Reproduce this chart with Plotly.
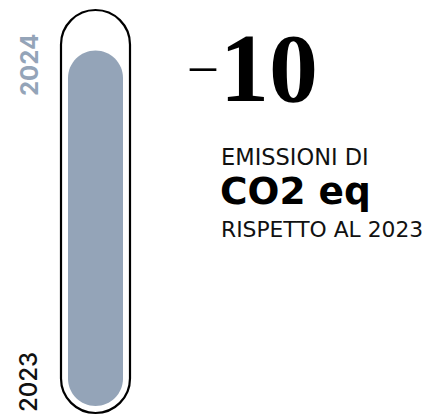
import plotly.graph_objects as go

# ---- data ----
years = ["2023", "2024"]
emissions_index = [100, 91.4]          # 2023 = 100 (outline), 2024 relative level (filled bar)
change_label = "10"                    # displayed change vs 2023 (minus sign drawn separately)
text_lines = ["EMISSIONI DI", "CO2 eq", "RISPETTO AL 2023"]

# ---- layout constants (screen pixels) ----
WIN_W, WIN_H = 435, 416
OFF = 8                  # page body margin offset
W, H = WIN_W - OFF, WIN_H - OFF
K = 3.89                 # pixels per index unit
BASE_PX = 406 - OFF      # pixel row of index 0 (figure coords)
CX_PX = 95.5 - OFF       # capsule centre column (figure coords)
HALF_W_PX = 27.5         # half width of filled bar
PAD_PX = 7               # gap between bar and outline
BAR_COLOR = "#94a4b8"

y_range = [-(H - BASE_PX) / K, BASE_PX / K]
x_range = [0, W / K]
cx = CX_PX / K
r_in = HALF_W_PX / K
pad = PAD_PX / K
r_out = r_in + pad


def capsule(xc, r, y0, y1):
    c = 0.5523 * r
    return (
        f"M {xc - r},{y0 + r} L {xc - r},{y1 - r} "
        f"C {xc - r},{y1 - r + c} {xc - c},{y1} {xc},{y1} "
        f"C {xc + c},{y1} {xc + r},{y1 - r + c} {xc + r},{y1 - r} "
        f"L {xc + r},{y0 + r} "
        f"C {xc + r},{y0 + r - c} {xc + c},{y0} {xc},{y0} "
        f"C {xc - c},{y0} {xc - r},{y0 + r - c} {xc - r},{y0 + r} Z"
    )


fig = go.Figure()
fig.add_trace(go.Scatter(x=[cx, cx], y=[0, emissions_index[0]], mode="markers",
                         marker=dict(opacity=0), hoverinfo="skip", showlegend=False))

fig.add_shape(type="path", xref="x", yref="y",
              path=capsule(cx, r_out, -pad, emissions_index[0] + pad),
              line=dict(color="#000000", width=2.2), fillcolor="rgba(0,0,0,0)")
fig.add_shape(type="path", xref="x", yref="y",
              path=capsule(cx, r_in, 0, emissions_index[1]),
              line=dict(width=0), fillcolor=BAR_COLOR)


def px(xp, yp):
    """screen pixel -> paper coords"""
    return (xp - OFF) / W, 1 - (yp - OFF) / H


def note(xp, yp, text, font, xanchor="left", angle=0):
    x, y = px(xp, yp)
    return dict(x=x, y=y, xref="paper", yref="paper", text=text, textangle=angle,
                showarrow=False, xanchor=xanchor, yanchor="middle", font=font)


ann = [
    note(30, 65, years[1], dict(family="Inter", size=24, color=BAR_COLOR, weight="bold"),
         xanchor="center", angle=-90),
    note(28, 382, years[0], dict(family="Inter", size=24, color="#111111", weight=500),
         xanchor="center", angle=-90),
    note(203, 65, "–", dict(family="Liberation Serif", size=52, color="#000000"),
         xanchor="center"),
    note(218, 68, change_label,
         dict(family="Liberation Serif", size=98, color="#000000", weight="bold")),
    note(219, 157, text_lines[0], dict(family="DejaVu Sans", size=22.5, color="#111111")),
    note(218, 191, text_lines[1], dict(family="DejaVu Sans", size=37.5, color="#000000",
                                       weight="bold")),
    note(219, 230, text_lines[2], dict(family="DejaVu Sans", size=21.8, color="#111111")),
]

fig.update_layout(
    width=W, height=H, margin=dict(l=0, r=0, t=0, b=0),
    paper_bgcolor="white", plot_bgcolor="white",
    xaxis=dict(range=x_range, visible=False, fixedrange=True),
    yaxis=dict(range=y_range, visible=False, fixedrange=True),
    annotations=ann, showlegend=False,
)

fig.write_html("out.html")
